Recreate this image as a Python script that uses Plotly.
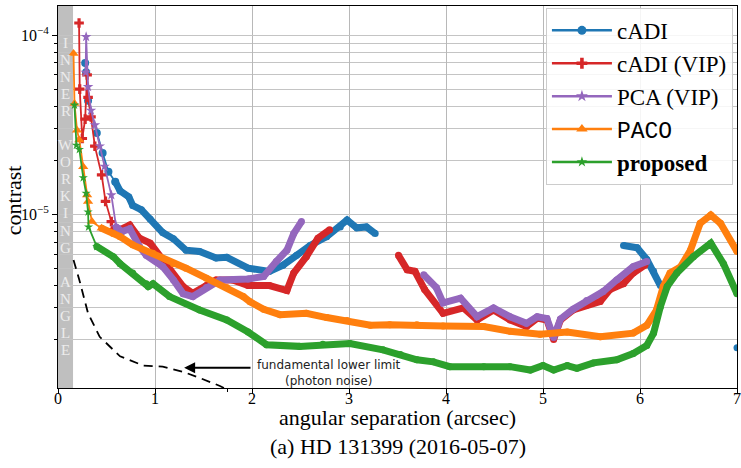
import math
import plotly.graph_objects as go

# ---------------- data ----------------
cadi_x = [0.28, 0.29, 0.31, 0.40, 0.46, 0.52, 0.59, 0.64, 0.73, 0.77, 0.86, 0.95, 1.08, 1.19,
          1.32, 1.46, 1.63, 1.74, 1.96, 2.18, 2.32, 2.46, 2.60, 2.77, 2.91, 2.98, 3.08, 3.18, 3.27,
          None, 5.83, 5.97, 6.07, 6.14, 6.21, None, 7.0]
cadi_y = [7.0e-5, 6.2e-5, 4.3e-5, 2.84e-5, 2.2e-5, 1.73e-5, 1.52e-5, 1.35e-5, 1.25e-5, 1.12e-5,
          1.06e-5, 9.4e-6, 7.9e-6, 7.3e-6, 6.3e-6, 6.2e-6, 5.7e-6, 5.75e-6, 5.0e-6, 4.8e-6, 5.2e-6,
          5.9e-6, 6.7e-6, 7.5e-6, 8.5e-6, 9.3e-6, 8.4e-6, 8.5e-6, 7.8e-6,
          None, 6.7e-6, 6.5e-6, 5.6e-6, 4.8e-6, 4.0e-6, None, 1.8e-6]

cadivip_x = [0.217, 0.224, 0.25, 0.28, 0.30, 0.31, 0.34, 0.38, 0.45, 0.49, 0.55, 0.57, 0.64, 0.74,
             0.84, 0.95, 1.08, 1.19, 1.29, 1.39, 1.53, 1.63, 1.80, 1.96, 2.18, 2.36, 2.43, 2.56,
             2.68, 2.80, None, 3.51, 3.60, 3.68, 3.78, 3.97, 4.18, 4.32, 4.49, 4.66, 4.83, 4.94,
             5.04, 5.11, 5.18, 5.31, 5.45, 5.59, 5.69, 5.83, 5.93, 6.05]
cadivip_y = [1.17e-4, 5.0e-5, 2.65e-5, 3.4e-5, 6.0e-5, 4.5e-5, 3.5e-5, 2.4e-5, 1.66e-5, 1.18e-5,
             9.1e-6, 8.2e-6, 8.2e-6, 8.7e-6, 7.35e-6, 6.9e-6, 5.55e-6, 4.5e-6, 3.95e-6, 3.62e-6,
             4.0e-6, 4.3e-6, 4.3e-6, 4.0e-6, 4.0e-6, 3.75e-6, 4.7e-6, 5.8e-6, 7.35e-6, 8.2e-6,
             None, 5.9e-6, 4.9e-6, 4.8e-6, 3.8e-6, 2.8e-6, 3.0e-6, 2.57e-6, 2.92e-6, 2.57e-6,
             2.36e-6, 2.63e-6, 2.57e-6, 2.0e-6, 2.57e-6, 2.92e-6, 3.1e-6, 3.26e-6, 3.8e-6, 4.1e-6,
             4.7e-6, 5.2e-6]

pca_x = [0.285, 0.29, 0.31, 0.34, 0.38, 0.43, 0.48, 0.55, 0.60, 0.66, 0.74, 0.84, 0.91, 1.08,
         1.19, 1.29, 1.39, 1.53, 1.67, 1.96, 2.12, 2.25, 2.36, 2.43, 2.51,
         None, 3.77, 3.90, 3.97, 4.15, 4.32, 4.49, 4.66, 4.83, 4.94, 5.04, 5.11, 5.18, 5.31,
         5.45, 5.62, 5.76, 5.93, 6.07]
pca_y = [6.2e-5, 9.8e-5, 5.15e-5, 3.8e-5, 3.15e-5, 2.4e-5, 1.85e-5, 1.28e-5, 8.5e-6, 8.0e-6,
         8.3e-6, 6.6e-6, 5.9e-6, 5.1e-6, 4.3e-6, 3.6e-6, 3.47e-6, 3.9e-6, 4.3e-6, 4.35e-6,
         4.5e-6, 5.45e-6, 6.3e-6, 7.8e-6, 9.1e-6,
         None, 4.6e-6, 3.9e-6, 3.2e-6, 3.4e-6, 2.68e-6, 3.0e-6, 2.68e-6, 2.46e-6, 2.68e-6,
         2.62e-6, 2.05e-6, 2.6e-6, 2.95e-6, 3.3e-6, 3.7e-6, 4.3e-6, 5.1e-6, 5.45e-6]

paco_x = [0.16, 0.17, 0.196, 0.22, 0.26, 0.30, 0.31, 0.35, 0.45, 0.57, 0.64, 0.77, 0.98, 1.19,
          1.32, 1.53, 1.74, 1.91, 1.98, 2.12, 2.29, 2.56, 2.77, 2.98, 3.22, 3.42, 3.70, 3.97,
          4.39, 4.66, 4.97, 5.25, 5.59, 5.93, 6.07, 6.17, 6.24, 6.31, 6.42, 6.52, 6.62, 6.73,
          6.83, 7.0]
paco_y = [7.9e-5, 4.15e-5, 2.95e-5, 2.6e-5, 1.84e-5, 1.28e-5, 1.18e-5, 9.1e-6, 8.35e-6, 7.8e-6,
          7.5e-6, 6.75e-6, 6.05e-6, 5.3e-6, 5.0e-6, 4.4e-6, 3.9e-6, 3.47e-6, 3.25e-6, 2.95e-6,
          2.75e-6, 2.8e-6, 2.65e-6, 2.55e-6, 2.4e-6, 2.42e-6, 2.42e-6, 2.38e-6, 2.36e-6, 2.22e-6,
          2.14e-6, 2.2e-6, 2.07e-6, 2.17e-6, 2.4e-6, 2.92e-6, 3.95e-6, 4.7e-6, 5.1e-6, 6.3e-6,
          8.9e-6, 9.9e-6, 8.9e-6, 6.2e-6]

prop_x = [0.17, 0.19, 0.22, 0.26, 0.29, 0.31, 0.315, 0.40, 0.57, 0.64, 0.77, 0.91, 0.93, 0.98,
          1.15, 1.46, 1.74, 1.96, 2.15, 2.49, 2.73, 3.01, 3.35, 3.53, 3.70, 3.87, 4.04, 4.39,
          4.66, 4.87, 5.0, 5.11, 5.25, 5.35, 5.52, 5.76, 5.93, 6.07, 6.14, 6.21, 6.28, 6.38,
          6.55, 6.73, 6.86, 7.0]
prop_y = [4.07e-5, 2.43e-5, 2.3e-5, 1.6e-5, 1.31e-5, 1.03e-5, 8.5e-6, 6.6e-6, 5.8e-6, 5.3e-6,
          4.7e-6, 4.1e-6, 3.95e-6, 4.1e-6, 3.47e-6, 2.92e-6, 2.57e-6, 2.2e-6, 1.87e-6, 1.83e-6,
          1.88e-6, 1.9e-6, 1.75e-6, 1.65e-6, 1.54e-6, 1.5e-6, 1.41e-6, 1.41e-6, 1.41e-6, 1.35e-6,
          1.43e-6, 1.35e-6, 1.43e-6, 1.38e-6, 1.48e-6, 1.54e-6, 1.67e-6, 1.85e-6, 2.17e-6,
          3.05e-6, 3.95e-6, 4.7e-6, 5.8e-6, 6.9e-6, 5.3e-6, 3.6e-6]

limit_x = [0.16, 0.22, 0.31, 0.43, 0.64, 0.88, 1.08, 1.29, 1.46, 1.67, 1.85]
limit_y = [5.55e-6, 4.3e-6, 2.8e-6, 2.07e-6, 1.61e-6, 1.43e-6, 1.41e-6, 1.32e-6, 1.22e-6, 1.1e-6, 0.98e-6]

x_ticks = [0, 1, 2, 3, 4, 5, 6, 7]
y_major = [1e-5, 1e-4]
y_major_text = ["10<sup>\u22125</sup>", "10<sup>\u22124</sup>"]
y_minor = [k * 1e-6 for k in range(2, 10)] + [k * 1e-5 for k in range(2, 10)]
iwa = 0.155
iwa_letters = list("INNER") + [""] + list("WORKING") + [""] + list("ANGLE")

series = [
    ("cADI", cadi_x, cadi_y, "#1f77b4", "circle", 8, 0.55),
    ("cADI (VIP)", cadivip_x, cadivip_y, "#d62728", "cross", 8, 0.55),
    ("PCA (VIP)", pca_x, pca_y, "#9467bd", "star", 8, 0.55),
    ("<span style='font-family:Liberation Mono'>PACO</span>", paco_x, paco_y, "#ff7f0e", "triangle-up", 9, 0.36),
    ("<b>proposed</b>", prop_x, prop_y, "#2ca02c", "star", 7, 0.36),
]

SERIF = "Liberation Serif"
fig = go.Figure()

for name, xs, ys, col, sym, msz, cut in series:
    k = next(i for i, x in enumerate(xs) if x is not None and x > cut)
    # sparse head: thin line with visible markers
    fig.add_trace(go.Scatter(x=xs[:k + 1], y=ys[:k + 1], mode="lines+markers",
                             line=dict(color=col, width=1.8),
                             marker=dict(symbol=sym, size=msz, color=col),
                             showlegend=False, hoverinfo="skip"))
    # dense body: thick band
    fig.add_trace(go.Scatter(x=xs[k:], y=ys[k:], mode="lines+markers",
                             line=dict(color=col, width=7),
                             marker=dict(symbol="circle", size=7, color=col),
                             showlegend=False, hoverinfo="skip"))

fig.add_trace(go.Scatter(x=limit_x, y=limit_y, mode="lines",
                         line=dict(color="black", width=1.8, dash="9px,6px"),
                         showlegend=False, hoverinfo="skip"))

# legend entries
for name, xs, ys, col, sym, msz, cut in series:
    fig.add_trace(go.Scatter(x=[None], y=[None], mode="lines+markers", name=name,
                             line=dict(color=col, width=2.5),
                             marker=dict(symbol=sym, size=msz + 1, color=col)))

fig.add_shape(type="rect", xref="x", yref="paper", x0=0, x1=iwa, y0=0, y1=1,
              fillcolor="#bfbfbf", line=dict(width=0), layer="between")

# plot area: top 5.7 px, bottom 388.3 px
for i, ch in enumerate(iwa_letters):
    if not ch:
        continue
    py = 42.5 + 17.1 * i
    fig.add_annotation(x=iwa / 2, xref="x", y=(388.3 - py) / 382.6, yref="paper", text=ch,
                       showarrow=False, font=dict(family=SERIF, size=15, color="#ececec"),
                       xanchor="center", yanchor="middle")

ylog = math.log10(1.39e-6)
fig.add_annotation(x=1.3, y=ylog, xref="x", yref="y", ax=2.0, ay=ylog, axref="x", ayref="y",
                   text="", showarrow=True, arrowhead=2, arrowsize=1.1, arrowwidth=2, arrowcolor="black")
fig.add_annotation(x=2.03, y=math.log10(1.30e-6), xref="x", yref="y", showarrow=False,
                   text="fundamental lower limit<br>(photon noise)", align="center",
                   xanchor="left", yanchor="middle",
                   font=dict(family="DejaVu Sans", size=12, color="#222"))

fig.add_annotation(x=0.5, y=-0.077, xref="paper", yref="paper", showarrow=False,
                   text="angular separation (arcsec)", font=dict(family=SERIF, size=22, color="black"),
                   xanchor="center", yanchor="middle")
fig.add_annotation(x=0.5, y=-0.154, xref="paper", yref="paper", showarrow=False,
                   text="(a) HD 131399 (2016-05-07)", font=dict(family=SERIF, size=22, color="black"),
                   xanchor="center", yanchor="middle")
fig.add_annotation(x=-0.066, y=0.492, xref="paper", yref="paper", showarrow=False, textangle=-90,
                   text="contrast", font=dict(family=SERIF, size=22, color="black"),
                   xanchor="center", yanchor="middle")

grid = "#c4c4c4"
fig.update_xaxes(range=[0, 7], tickvals=x_ticks, ticks="outside", ticklen=5, tickcolor="black",
                 ticklabelstandoff=-9,
                 showgrid=True, gridcolor="#b8b8b8", gridwidth=1, zeroline=False, automargin=False,
                 showline=True, linecolor="black", linewidth=1, mirror=True,
                 tickfont=dict(family=SERIF, size=16, color="black"),
                 minor=dict(tickvals=[1.75], ticks="outside", ticklen=3, tickcolor="black", showgrid=False))
fig.update_yaxes(type="log", range=[-5.97, -3.837], tickvals=y_major, ticktext=y_major_text,
                 ticks="outside", ticklen=5, tickcolor="black", automargin=False,
                 showgrid=True, gridcolor=grid, gridwidth=1, zeroline=False,
                 showline=True, linecolor="black", linewidth=1, mirror=True,
                 tickfont=dict(family=SERIF, size=16, color="black"),
                 minor=dict(tickvals=y_minor, ticks="outside", ticklen=3, tickcolor="black",
                            showgrid=True, gridcolor=grid, gridwidth=1))

fig.update_layout(width=741, height=468, margin=dict(l=58, r=4, t=6, b=80, autoexpand=False),
                  plot_bgcolor="white", paper_bgcolor="white",
                  legend=dict(x=0.994, y=0.995, xanchor="right", yanchor="top",
                              bgcolor="rgba(255,255,255,0.85)", bordercolor="#cccccc", borderwidth=1,
                              font=dict(family=SERIF, size=23, color="black"),
                              itemwidth=60),
                  showlegend=True)

fig.write_html("out.html", config={"displayModeBar": False},
               post_script="document.body.style.margin='0';document.body.style.padding='0';"
                           "document.body.style.overflow='hidden';")
